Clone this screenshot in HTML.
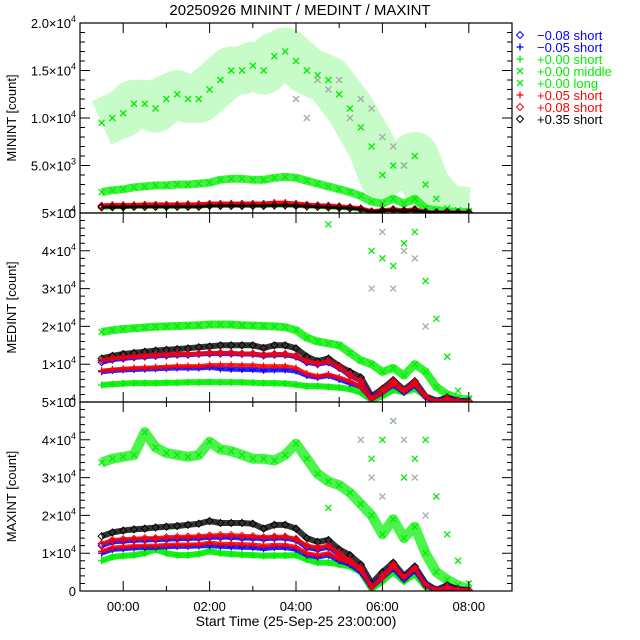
<!DOCTYPE html>
<html><head><meta charset="utf-8"><style>
html,body{margin:0;padding:0;background:#fff}
svg{display:block;font-family:"Liberation Sans",sans-serif}
</style></head><body>
<svg id="chart" width="640" height="640" viewBox="0 0 640 640">
<text x="300" y="15" text-anchor="middle" font-size="15">20250926 MININT / MEDINT / MAXINT</text>
<text x="296" y="626" text-anchor="middle" font-size="14">Start Time (25-Sep-25 23:00:00)</text>
<g id="legend"></g>
</svg>
<script>
const times = [-0.5,-0.25,0,0.25,0.5,0.75,1,1.25,1.5,1.75,2,2.25,2.5,2.75,3,3.25,3.5,3.75,4,4.25,4.5,4.75,5,5.25,5.5,5.75,6,6.25,6.5,6.75,7,7.25,7.5,7.75,8];
const xTicks = [0,2,4,6,8];
const xTickLabels = ["00:00","02:00","04:00","06:00","08:00"];
const N = null;
// MININT (counts in thousands)
const minLong = [9.5,10,10.5,11.5,11.5,11,12,12.5,12,12,13,14,15,15,15.5,15,16.5,17,16,15,14.5,14,12.5,11,9,7,4,5,5,6,3,1.5,0.5,0.3,0.2];
const minMiddle = [2.2,2.4,2.5,2.7,2.8,2.9,2.9,3.0,3.0,3.1,3.2,3.5,3.6,3.6,3.5,3.5,3.7,3.8,3.7,3.4,3.1,2.8,2.5,2.2,1.8,1.2,1.0,1.5,1.0,1.5,0.5,0.3,0.2,0.1,0.1];
const minGray = [N,N,N,N,N,N,N,N,N,N,N,N,N,N,N,N,N,N,12,10,14,13,14,10,12,11,8,7,5,N,N,N,N,N,N];
const minShort = [0.5,0.55,0.55,0.6,0.6,0.6,0.6,0.6,0.6,0.6,0.7,0.7,0.7,0.7,0.7,0.7,0.7,0.7,0.7,0.6,0.6,0.5,0.5,0.4,0.3,0.1,0.2,0.3,0.2,0.3,0.1,0.05,0.1,0.05,0.05];
const minBlueD = [0.75,0.8,0.8,0.8,0.85,0.85,0.85,0.85,0.9,0.9,0.95,0.95,0.95,0.95,0.95,0.95,1.0,1.0,0.95,0.85,0.8,0.75,0.7,0.6,0.45,0.15,0.3,0.4,0.3,0.4,0.1,0.05,0.1,0.05,0.05];
const minBlueP = [0.8,0.85,0.85,0.85,0.9,0.9,0.9,0.9,0.95,0.95,1.0,1.0,1.0,1.0,1.0,1.0,1.05,1.05,1.0,0.9,0.8,0.8,0.7,0.6,0.5,0.2,0.3,0.4,0.3,0.4,0.1,0.05,0.1,0.05,0.05];
const minRedP = [0.8,0.85,0.85,0.85,0.9,0.9,0.9,0.9,0.9,0.9,1.0,1.0,1.0,1.0,1.0,1.0,1.1,1.1,1.0,0.9,0.8,0.8,0.7,0.6,0.5,0.2,0.3,0.4,0.3,0.4,0.1,0.05,0.1,0.05,0.05];
const minRedD = [0.7,0.75,0.75,0.75,0.8,0.8,0.8,0.8,0.8,0.8,0.9,0.9,0.9,0.9,0.9,0.9,0.95,0.95,0.9,0.8,0.75,0.7,0.65,0.55,0.45,0.15,0.3,0.35,0.25,0.35,0.1,0.05,0.1,0.05,0.05];
const minBlackD = [0.6,0.62,0.62,0.65,0.65,0.65,0.65,0.65,0.65,0.65,0.75,0.75,0.75,0.75,0.75,0.75,0.8,0.8,0.75,0.7,0.65,0.6,0.55,0.5,0.4,0.1,0.25,0.3,0.2,0.3,0.1,0.05,0.1,0.05,0.05];
// MEDINT (thousands)
const medLong = [N,N,N,N,N,N,N,N,N,N,N,N,N,N,N,N,N,N,N,N,N,47,N,N,N,40,38,36,42,45,32,22,12,3,1];
const medGray = [N,N,N,N,N,N,N,N,N,N,N,N,N,N,N,N,N,N,N,N,N,N,N,N,N,30,45,30,40,38,20,N,N,N,N];
const medMiddle = [18.5,19,19.3,19.5,19.7,19.9,20,20.1,20.2,20.3,20.5,20.5,20.5,20.3,20.2,20.1,20,19.8,19,17,16,15.5,15,13,11,10,8,9,7,10,8,4,2,1,0.5];
const medShort = [4.5,4.7,4.9,5,5,5,5.1,5.1,5.2,5.2,5.3,5.2,5.2,5.2,5.1,5,5,4.9,4.6,4.2,4.2,4,3.8,3.4,2.5,0.5,1.5,3.2,2.5,3.5,1.5,0.5,0.8,0.3,0.2];
const medBlackD = [11.5,12.2,12.7,13,13.3,13.6,13.8,14,14.2,14.5,14.7,15,15,15,15,14.3,15,15,14.2,12,10.8,11.5,9.5,8,6.5,1.5,3.5,5.8,3.2,5.5,1.5,0.2,1.2,0.3,0.2];
const medBlueD = [10.5,11.2,11.5,11.8,12,12.2,12.3,12.5,12.5,12.7,12.8,12.8,12.8,12.7,12.7,12.3,12.5,12.5,12,10.5,10,10.5,9,7,5.5,1,3,5,3,5,1.5,0.2,1,0.3,0.2];
const medRedD = [11,11.5,11.8,12,12.2,12.4,12.5,12.7,12.7,12.8,13,13,13,12.8,12.8,12.5,12.7,12.7,12.2,10.8,10.2,10.8,9.2,7.2,5.5,1,3.2,5.5,3,5.2,1.5,0.2,1,0.3,0.2];
const medBlueP = [8,8.3,8.5,8.6,8.7,8.8,8.9,9,9,9,9.2,8.8,8.7,8.6,8.6,8.4,8.5,8.5,8.2,7,6.5,7,6,5,4,0.8,2.5,4.5,2.5,4.5,1.2,0.2,0.8,0.2,0.1];
const medRedP = [8.3,8.6,8.8,9,9.1,9.2,9.3,9.5,9.5,9.5,9.8,9.8,9.8,9.7,9.7,9.5,9.5,9.5,9,7.5,6.8,7.3,6.5,5.5,4,0.8,2.5,4.8,2.8,4.8,1.3,0.2,0.8,0.2,0.1];
// MAXINT (thousands)
const maxLong = [N,N,N,N,N,N,N,N,N,N,N,N,N,N,N,N,N,N,N,N,N,22,N,N,N,35,40,45,30,35,40,25,15,8,2];
const maxGray = [N,N,N,N,N,N,N,N,N,N,N,N,N,N,N,N,N,N,N,N,N,N,N,N,40,30,25,45,40,30,20,N,N,N,N];
const maxMiddle = [34,35,35.5,36,42,38,36.5,36,35.5,36,39.5,37.5,37,36,35,35,34.5,36,39,35,31,29,28,26,23,20,15,19,14,17,10,5,3,1.5,0.5];
const maxShort = [8,9,9.3,9.5,10,11,10,9.5,9.5,9.8,10.5,10,9.8,9.6,9.5,9.3,9.4,9.4,9.5,8.3,7.5,7.5,7,6.5,5,0.5,2.5,5,2.5,4.5,1,0.3,0.8,0.3,0.2];
const maxBlackD = [14.5,15.5,16,16.3,16.5,16.8,17,17.2,17.5,17.8,18.5,18,18,18,17.8,16.5,17.5,17.5,16.5,14,13,13.5,11,9.5,7,2,5,7.5,4,6.5,2,0.3,1.5,0.5,0.2];
const maxBlueD = [12,13,13.2,13.4,13.5,13.6,13.7,13.8,13.9,14,14.2,14.2,14.2,14,14,13.8,14,14,13.5,11.5,11,11.6,9.8,7.8,6,1.2,4,7,3.5,6.2,1.8,0.3,1.2,0.3,0.2];
const maxRedD = [12.5,13.5,13.7,13.8,14,14,14.2,14.3,14.4,14.5,14.7,14.8,14.8,14.6,14.5,14.2,14.4,14.4,13.8,12,11.5,12,10,8,6,1.2,4,7,3.5,6,1.5,0.3,1.2,0.3,0.2];
const maxBlueP = [10,11,11.2,11.4,11.5,11.6,11.7,11.8,11.8,11.9,12,11.8,11.7,11.6,11.5,11.2,11.5,11.5,11,9.5,9,9.5,8,7,5,1,3.5,6,3,5.5,1.5,0.3,1,0.3,0.2];
const maxRedP = [10.5,11.5,11.7,11.9,12,12,12.2,12.3,12.3,12.4,12.8,12.5,12.5,12.4,12.3,12,12.2,12.2,11.7,10,9.5,10,8.5,7.5,5.5,1,3.5,6.5,3.5,6,1.6,0.3,1,0.3,0.2];

const legendLabels = ["\u22120.08 short","\u22120.05 short","+0.00 short","+0.00 middle","+0.00 long","+0.05 short","+0.08 short","+0.35 short"];
const legendMarks = ["d","p","p","x","x","p","d","d"];
const legendColors = ["#0000ff","#0000ff","#00ee00","#00ee00","#00ee00","#ff0000","#ff0000","#000000"];

const NS = "http://www.w3.org/2000/svg";
const svg = document.getElementById("chart");
const X0 = 80, X1 = 512, T0 = -1, T1 = 9;
function xScale(t){ return X0 + (t - T0) / (T1 - T0) * (X1 - X0); }
function mk(tag, attrs, parent){ const e = document.createElementNS(NS, tag); for (const k in attrs) e.setAttribute(k, attrs[k]); (parent||svg).appendChild(e); return e; }

function marker(g, type, x, y, color){
  let e;
  if (type === "d") e = mk("path", {d:`M${x} ${y-3.5}L${x+3.5} ${y}L${x} ${y+3.5}L${x-3.5} ${y}Z`, fill:"none", stroke:color, "stroke-width":1}, g);
  else if (type === "p") e = mk("path", {d:`M${x-3.5} ${y}H${x+3.5}M${x} ${y-3.5}V${y+3.5}`, stroke:color, "stroke-width":1.3}, g);
  else e = mk("path", {d:`M${x-3} ${y-3}L${x+3} ${y+3}M${x-3} ${y+3}L${x+3} ${y-3}`, stroke:color, "stroke-width":1.3}, g);
  
  
}

const panels = [
  {name:"minint", top:23, bot:213, max:20, title:"MININT [count]",
   ticks:[0,5,10,15,20], labels:[["0",""],["5.0\u00d710","3"],["1.0\u00d710","4"],["1.5\u00d710","4"],["2.0\u00d710","4"]], minor:1,
   series:[[minLong,"x","#00ee00",48,0.22],[minGray,"x","#aaaaaa",0,0],[minMiddle,"x","#00ee00",8,0.75],[minShort,"p","#00ee00",3,0.9],[minBlueD,"d","#0000ff",3,0.9],[minBlueP,"p","#0000ff",3,0.9],[minRedP,"p","#ff0000",4,0.9],[minRedD,"d","#ff0000",3,0.9],[minBlackD,"d","#000000",3,0.9]]},
  {name:"medint", top:213, bot:402, max:50, title:"MEDINT [count]",
   ticks:[0,10,20,30,40,50], labels:[["0",""],["1\u00d710","4"],["2\u00d710","4"],["3\u00d710","4"],["4\u00d710","4"],["5\u00d710","4"]], minor:2,
   series:[[medLong,"x","#00ee00",0,0],[medGray,"x","#aaaaaa",0,0],[medMiddle,"x","#00ee00",8,0.8],[medShort,"p","#00ee00",6,0.9],[medBlackD,"d","#000000",6,0.8],[medBlueD,"d","#0000ff",5,0.85],[medRedD,"d","#ff0000",4,0.85],[medBlueP,"p","#0000ff",5,0.85],[medRedP,"p","#ff0000",4,0.85]]},
  {name:"maxint", top:402, bot:591, max:50, title:"MAXINT [count]",
   ticks:[0,10,20,30,40,50], labels:[["0",""],["1\u00d710","4"],["2\u00d710","4"],["3\u00d710","4"],["4\u00d710","4"],["5\u00d710","4"]], minor:2,
   series:[[maxLong,"x","#00ee00",0,0],[maxGray,"x","#aaaaaa",0,0],[maxMiddle,"x","#00ee00",10,0.7],[maxShort,"p","#00ee00",6,0.9],[maxBlackD,"d","#000000",6,0.8],[maxBlueD,"d","#0000ff",5,0.85],[maxRedD,"d","#ff0000",4,0.85],[maxBlueP,"p","#0000ff",5,0.85],[maxRedP,"p","#ff0000",4,0.85]]}
];

const defs = mk("defs", {});
panels.forEach((p, pi) => {
  const cp = mk("clipPath", {id:"clip" + pi}, defs);
  mk("rect", {x:X0, y:p.top, width:X1-X0, height:p.bot-p.top}, cp);
  const g = mk("g", {});
  
  
  const dg = mk("g", {"clip-path":`url(#clip${pi})`}, g);
  
  
  const yScale = v => p.bot - v / p.max * (p.bot - p.top);
  p.series.forEach(s => {
    const [vals, type, color, lw, op] = s;
    const sg = mk("g", {}, dg);
    
    
    if (lw > 0) {
      let d = "", pen = false;
      vals.forEach((v, i) => { if (v === null) { pen = false; return; } d += (pen ? "L" : "M") + xScale(times[i]).toFixed(1) + " " + yScale(v).toFixed(1); pen = true; });
      const ln = mk("path", {d:d, fill:"none", stroke:color, "stroke-width":lw, "stroke-opacity":op, "stroke-linejoin":"round"}, sg);
      
      
    }
    vals.forEach((v, i) => { if (v !== null) marker(sg, type, xScale(times[i]), yScale(v), color); });
  });
  const fr = mk("rect", {x:X0, y:p.top, width:X1-X0, height:p.bot-p.top, fill:"none", stroke:"#000", "stroke-width":1.2}, g);
  
  
  for (let v = 0; v <= p.max + 1e-9; v += p.minor) {
    const y = yScale(v);
    const major = p.ticks.some(t => Math.abs(t - v) < 1e-9);
    const L = major ? 10 : 5;
    mk("path", {d:`M${X0} ${y}h${L}M${X1} ${y}h${-L}`, stroke:"#000", "stroke-width":1}, g);
  }
  for (let h = 0; h <= 8; h++) {
    const x = xScale(h); const L = h % 2 === 0 ? 10 : 5;
    mk("path", {d:`M${x} ${p.bot}v${-L}M${x} ${p.top}v${L}`, stroke:"#000", "stroke-width":1}, g);
  }
  p.ticks.forEach((t, i) => {
    const tx = mk("text", {x:76, y:yScale(t) + 5, "text-anchor":"end", "font-size":13}, g);
    tx.textContent = p.labels[i][0];
    if (p.labels[i][1]) {
      const sp = mk("tspan", {dy:-6, "font-size":9}, tx);
      sp.textContent = p.labels[i][1];
    }
    
    
  });
  const yt = mk("text", {x:0, y:0, "text-anchor":"middle", "font-size":13, transform:`translate(16 ${(p.top+p.bot)/2}) rotate(-90)`}, g);
  yt.textContent = p.title;
  
  
});

xTicks.forEach((h, i) => {
  const t = mk("text", {x:xScale(h), y:611, "text-anchor":"middle", "font-size":13});
  t.textContent = xTickLabels[i];
  
  
});

const lg = document.getElementById("legend");
legendLabels.forEach((lab, i) => {
  const y = 35 + i * 12;
  const eg = mk("g", {}, lg);
  
  
  marker(eg, legendMarks[i], 520, y, legendColors[i]);
  const t = mk("text", {x:537, y:y + 5, "font-size":13, fill:legendColors[i]}, eg);
  t.textContent = lab;
  
  
});
</script>
</body></html>
